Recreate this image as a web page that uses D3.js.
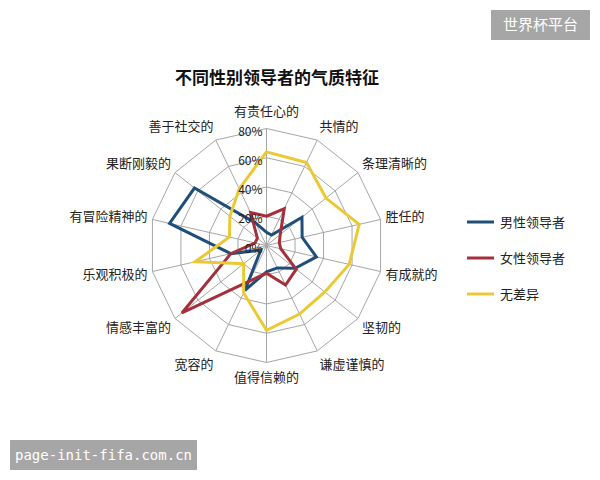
<!DOCTYPE html>
<html>
<head>
<meta charset="utf-8">
<script src="https://cdn.jsdelivr.net/npm/d3@7"></script>
<style>
  html, body { margin: 0; padding: 0; background: #fff; }
  svg { display: block; font-family: "Noto Sans CJK SC", "Noto Sans", sans-serif; }
</style>
</head>
<body>
<svg id="chart"></svg>
<script>
// 数据
const categories = ['有责任心的', '共情的', '条理清晰的', '胜任的', '有成就的', '坚韧的', '谦虚谨慎的',
  '值得信赖的', '宽容的', '情感丰富的', '乐观积极的', '有冒险精神的', '果断刚毅的', '善于社交的']
const seriesNames = ['男性领导者', '女性领导者', '无差异']
const maleValues = [9, 8, 31, 25, 35, 25, 17, 18, 34, 5, 25, 68, 63, 17]
const femaleValues = [20, 28, 12, 9, 10, 26, 30, 19, 27, 74, 25, 8, 8, 25]
const noDiffValues = [64, 63, 52, 65, 58, 51, 52, 58, 36, 20, 50, 26, 32, 43]
const tickValues = [0, 20, 40, 60, 80]
const colors = ['#1f4e79', '#a3303a', '#ebc934']

const width = 600
const height = 480
const cx = 266.5
const cy = 245.5

const svg = d3.select('#chart')
  .attr('width', width)
  .attr('height', height)

const r = d3.scaleLinear().domain([0, 80]).range([0, 117])
const angle = d3.scaleLinear().domain([0, categories.length]).range([0, 2 * Math.PI])

const g = svg.append('g').attr('transform', `translate(${cx},${cy})`)

// 网格
const ringLine = d3.lineRadial()
  .angle((d, i) => angle(i))
  .radius(d => r(d))
  .curve(d3.curveLinearClosed)

g.append('g')
  .selectAll('path')
  .data(tickValues.filter(t => t > 0))
  .enter()
  .append('path')
  .attr('d', t => ringLine(categories.map(() => t)))
  .attr('fill', 'none')
  .attr('stroke', '#a6a6a6')
  .attr('stroke-width', 1)

g.append('g')
  .selectAll('line')
  .data(categories)
  .enter()
  .append('line')
  .attr('x1', 0)
  .attr('y1', 0)
  .attr('x2', (d, i) => Math.sin(angle(i)) * r(80))
  .attr('y2', (d, i) => -Math.cos(angle(i)) * r(80))
  .attr('stroke', '#a6a6a6')
  .attr('stroke-width', 1)

// 数据线
const series = [maleValues, femaleValues, noDiffValues]
const valueLine = d3.lineRadial()
  .angle((d, i) => angle(i))
  .radius(d => r(d))
  .curve(d3.curveLinearClosed)

g.append('g')
  .selectAll('path')
  .data(series)
  .enter()
  .append('path')
  .attr('d', d => valueLine(d))
  .attr('fill', 'none')
  .attr('stroke', (d, i) => colors[i])
  .attr('stroke-width', 3)
  .attr('stroke-linejoin', 'miter')

// 刻度标签
g.append('g')
  .selectAll('text')
  .data(tickValues)
  .enter()
  .append('text')
  .attr('x', -4)
  .attr('y', t => -r(t) + 3)
  .attr('dy', '0.35em')
  .attr('text-anchor', 'end')
  .attr('fill', '#222')
  .style('font-size', '12px')
  .text(t => t + '%')

// 分类标签（顶部的标签多留一点空间给 80%）
g.append('g')
  .selectAll('text')
  .data(categories)
  .enter()
  .append('text')
  .attr('x', (d, i) => Math.sin(angle(i)) * (r(80) + 5))
  .attr('y', (d, i) => {
    const c = Math.cos(angle(i))
    return -c * (r(80) + 5) - c * 10 - (c > 0.99 ? 2 : 0)
  })
  .attr('dy', '0.35em')
  .attr('text-anchor', (d, i) => {
    const s = Math.sin(angle(i))
    return s > 0.05 ? 'start' : (s < -0.05 ? 'end' : 'middle')
  })
  .attr('fill', '#222')
  .style('font-size', '13px')
  .text(d => d)

// 标题
svg.append('text')
  .attr('x', 277)
  .attr('y', 78)
  .attr('dy', '0.35em')
  .attr('text-anchor', 'middle')
  .attr('fill', '#111')
  .style('font-size', '17px')
  .style('font-weight', 'bold')
  .text('不同性别领导者的气质特征')

// 图例
const legend = svg.append('g')
  .selectAll('g')
  .data(seriesNames)
  .enter()
  .append('g')
  .attr('transform', (d, i) => `translate(467,${222 + i * 36})`)

legend.append('line')
  .attr('x1', 0)
  .attr('x2', 27)
  .attr('stroke', (d, i) => colors[i])
  .attr('stroke-width', 3)

legend.append('text')
  .attr('x', 33)
  .attr('dy', '0.35em')
  .attr('fill', '#222')
  .style('font-size', '13px')
  .text(d => d)

// 水印
svg.append('rect')
  .attr('x', 491).attr('y', 10).attr('width', 99).attr('height', 30)
  .attr('fill', '#a6a6a6')
svg.append('text')
  .attr('x', 540.5).attr('y', 25).attr('dy', '0.35em')
  .attr('text-anchor', 'middle').attr('fill', '#fff')
  .style('font-size', '15px')
  .text('世界杯平台')

svg.append('rect')
  .attr('x', 10).attr('y', 440).attr('width', 187).attr('height', 30)
  .attr('fill', '#a6a6a6')
svg.append('text')
  .attr('x', 103.5).attr('y', 455).attr('dy', '0.35em')
  .attr('text-anchor', 'middle').attr('fill', '#fff')
  .style('font-size', '14px')
  .style('font-family', '"DejaVu Sans Mono", monospace')
  .text('page-init-fifa.com.cn')
</script>
</body>
</html>
